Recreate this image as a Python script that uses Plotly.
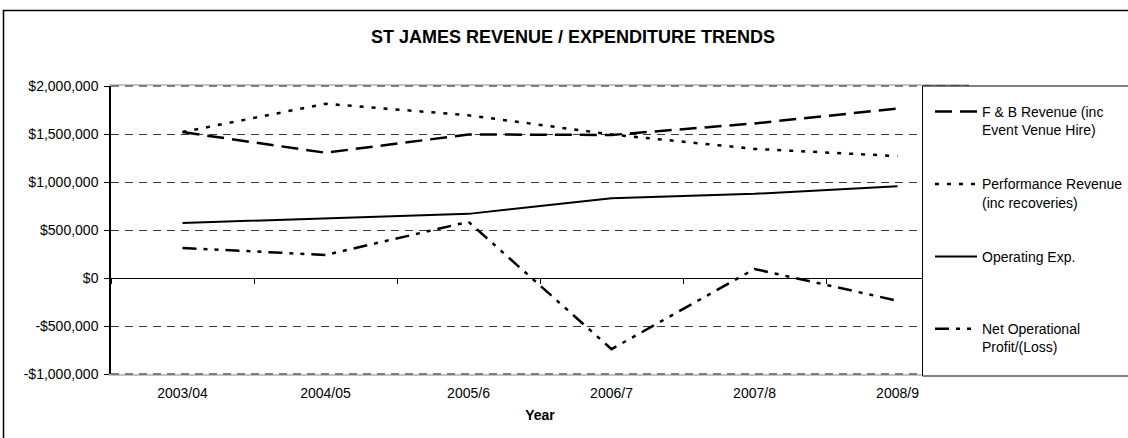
import plotly.graph_objects as go

categories = ["2003/04", "2004/05", "2005/6", "2006/7", "2007/8", "2008/9"]
fb_revenue = [1520000, 1305000, 1495000, 1490000, 1610000, 1765000]
perf_revenue = [1520000, 1815000, 1695000, 1495000, 1345000, 1270000]
operating_exp = [574000, 622000, 668000, 831000, 877000, 956000]
net_profit = [313000, 240000, 585000, -741000, 94000, -237000]

series_names = [
    "F & B Revenue (inc<br>Event Venue Hire)",
    "Performance Revenue<br>(inc recoveries)",
    "Operating Exp.<br> ",
    "Net Operational<br>Profit/(Loss)",
]
y_tickvals = [-1000000, -500000, 0, 500000, 1000000, 1500000, 2000000]
y_ticktext = ["-$1,000,000", "-$500,000", "$0", "$500,000", "$1,000,000", "$1,500,000", "$2,000,000"]

FONT = "Liberation Sans, Arial, sans-serif"
W, H = 1128, 438
L, R, T, B = 111, 159, 86, 64
PW = W - L - R
PH = H - T - B

def px_x(p):
    return (p - L) / PW

def px_y(p):
    return (H - B - p) / PH

fig = go.Figure()
styles = [
    dict(dash="17px,8px", width=2.5),
    dict(dash="4px,8px", width=2.5),
    dict(dash="solid", width=2),
    dict(dash="14px,7px,4px,7px,4px,7px", width=2.5),
]
for i, (name, vals) in enumerate(zip(series_names, [fb_revenue, perf_revenue, operating_exp, net_profit])):
    fig.add_trace(go.Scatter(
        x=categories, y=vals, name=name, mode="lines",
        line=dict(color="black", **styles[i]),
        legendgroup=f"g{i}",
    ))

# invisible helper trace for the tick axis on the zero line
fig.add_trace(go.Scatter(
    x=categories, y=[0] * len(categories), xaxis="x2", mode="lines",
    line=dict(width=0), opacity=0, showlegend=False, hoverinfo="skip",
))

fig.update_layout(
    width=W, height=H,
    margin=dict(l=L, r=R, t=T, b=B, autoexpand=False),
    paper_bgcolor="white", plot_bgcolor="white",
    font=dict(family=FONT, size=14, color="black"),
    title=dict(text="<b>ST JAMES REVENUE / EXPENDITURE TRENDS</b>",
               x=573 / W, xref="container", xanchor="center",
               y=1 - 37 / H, yref="container", yanchor="middle",
               font=dict(size=18, family=FONT, color="black")),
    xaxis=dict(type="category", categoryorder="array", categoryarray=categories,
               range=[-0.5, 5.5], showgrid=False, ticks="",
               showline=True, mirror=True, linecolor="#c4c4c4", linewidth=2,
               zeroline=False, ticklabelstandoff=5,
               title=dict(text="<b>Year</b>", font=dict(size=14), standoff=10),
               tickfont=dict(size=14)),
    xaxis2=dict(type="category", categoryorder="array", categoryarray=categories,
                range=[-0.5, 5.5], overlaying="x", anchor="free", position=1 / 3,
                side="bottom", tickson="boundaries", ticks="outside", ticklen=5,
                tickcolor="black", showticklabels=False, showgrid=False,
                showline=True, linecolor="black", linewidth=1, zeroline=False),
    yaxis=dict(range=[-1000000, 2000000], tickvals=y_tickvals, ticktext=y_ticktext,
               showgrid=True, gridcolor="#3a3a3a", griddash="8px,6px", gridwidth=1,
               zeroline=True, zerolinecolor="black", zerolinewidth=1,
               showline=True, linecolor="black", linewidth=1.5,
               ticks="outside", ticklen=5, tickcolor="black",
               ticklabelstandoff=3,
               tickfont=dict(size=14)),
    legend=dict(x=px_x(930), y=px_y(96), xanchor="left", yanchor="top",
                xref="paper", yref="paper",
                bgcolor="rgba(0,0,0,0)", borderwidth=0,
                traceorder="grouped", tracegroupgap=33, valign="top",
                itemwidth=42, font=dict(size=14, family=FONT)),
    shapes=[
        # dashed frame lines at top and bottom of the plot area
        dict(type="line", xref="x domain", yref="y domain", x0=0, x1=1, y0=1, y1=1,
             line=dict(color="#808080", width=2, dash="8px,6px"), layer="above"),
        dict(type="line", xref="x domain", yref="y domain", x0=0, x1=1, y0=0, y1=0,
             line=dict(color="#808080", width=2, dash="8px,6px"), layer="above"),
        # outer chart border (clipped at right/bottom like the reference)
        dict(type="rect", xref="paper", yref="paper",
             x0=px_x(3.5), x1=px_x(1140), y0=px_y(10.5), y1=px_y(450),
             line=dict(color="black", width=1.5), fillcolor="rgba(0,0,0,0)", layer="above"),
        # legend box
        dict(type="rect", xref="paper", yref="paper",
             x0=px_x(922.5), x1=px_x(1140), y0=px_y(86), y1=px_y(376),
             line=dict(color="black", width=1), fillcolor="white", layer="above"),
    ],
)

fig.write_html("out.html", config={"displayModeBar": False},
               post_script="document.body.style.margin='0px';")
